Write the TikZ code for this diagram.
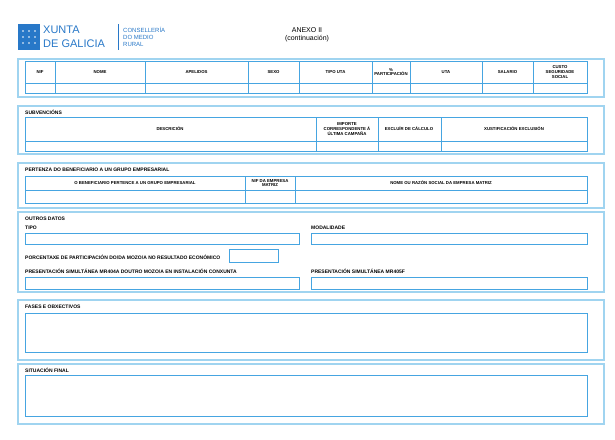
\documentclass[tikz,border=0pt]{standalone}
\usepackage{fontspec}
\setmainfont{Liberation Sans}
\definecolor{gridc}{RGB}{70,165,225}
\definecolor{outc}{RGB}{160,212,240}
\definecolor{logoc}{RGB}{40,120,200}
\begin{document}
\begin{tikzpicture}[x=1pt,y=-1pt,
 outer/.style={draw=outc, line width=1.1pt},
 grid/.style={draw=gridc, line width=0.6pt},
 lab/.style={font=\fontsize{4.3}{4.8}\selectfont\bfseries, align=center, inner sep=0},
 sec/.style={font=\fontsize{5}{6}\selectfont\bfseries, anchor=west, inner sep=0}]
\useasboundingbox[fill=white] (0,0) rectangle (615,439);
% logo
\fill[logoc] (18,24) rectangle (40,50);
\foreach \yy in {31,37,43} \foreach \xx in {23,29,35} \fill[white] (\xx,\yy) circle (0.9);
\node[anchor=west,inner sep=0,text=logoc,font=\fontsize{11}{11}\selectfont] (x1) at (43,30) {XUNTA};
\node[anchor=west,inner sep=0,text=logoc,font=\fontsize{11}{11}\selectfont] (x2) at (43,44) {DE GALICIA};
\draw[logoc,line width=0.6pt] (118,24) -- (118,50);
\node[anchor=west,inner sep=0,text=logoc,font=\fontsize{6}{7}\selectfont,align=left] (cons) at (123,37) {CONSELLERÍA\\DO MEDIO\\RURAL};
\node[font=\fontsize{7}{8.5}\selectfont,align=center] (title) at (307,35) {ANEXO II\\(continuación)};
% table 1
\draw[outer] (18,59) rectangle (604,97);
\draw[grid] (25,61) rectangle (587,93);
\draw[grid] (25,83) -- (587,83);
\foreach \c in {55,145,248,299,372,410,482,533} \draw[grid] (\c,61) -- (\c,93);
\foreach \a/\b/\t [count=\i] in {25/55/NIF,55/145/NOME,145/248/APELIDOS,248/299/SEXO,299/372/TIPO UTA,372/410/\%\\PARTICIPACIÓN,410/482/UTA,482/533/SALARIO,533/587/CUSTO\\SEGURIDADE\\SOCIAL}
  \node[lab] (h\i) at ({(\a+\b)/2},72) {\t};
% table 2
\draw[outer] (18,106) rectangle (604,154);
\node[sec] (s2) at (25,112) {SUBVENCIÓNS};
\draw[grid] (25,117) rectangle (587,151);
\draw[grid] (25,141) -- (587,141);
\foreach \c in {316,378,441} \draw[grid] (\c,117) -- (\c,151);
\node[lab] (d1) at (170,129) {DESCRICIÓN};
\node[lab] (d2) at (347,129) {IMPORTE\\CORRESPONDENTE Á\\ÚLTIMA CAMPAÑA};
\node[lab] (d3) at (409,129) {EXCLUÍR DE CÁLCULO};
\node[lab] (d4) at (514,129) {XUSTIFICACIÓN EXCLUSIÓN};
% table 3
\draw[outer] (18,163) rectangle (604,208);
\node[sec] (s3) at (25,170) {PERTENZA DO BENEFICIARIO A UN GRUPO EMPRESARIAL};
\draw[grid] (25,176) rectangle (587,203);
\draw[grid] (25,190) -- (587,190);
\foreach \c in {245,295} \draw[grid] (\c,176) -- (\c,203);
\node[lab] (p1) at (135,183) {O BENEFICIARIO PERTENCE A UN GRUPO EMPRESARIAL};
\node[lab] (p2) at (270,183) {NIF DA EMPRESA\\MATRIZ};
\node[lab] (p3) at (441,183) {NOME OU RAZÓN SOCIAL DA EMPRESA MATRIZ};
% outros datos
\draw[outer] (18,212) rectangle (604,292);
\node[sec] (s4) at (25,219) {OUTROS DATOS};
\node[sec] (t1) at (25,228) {TIPO};
\node[sec] (t2) at (311,228) {MODALIDADE};
\draw[grid] (25,233) rectangle (299,244);
\draw[grid] (311,233) rectangle (587,244);
\node[sec] (t3) at (25,257) {PORCENTAXE DE PARTICIPACIÓN DO/DA MOZO/A NO RESULTADO ECONÓMICO};
\draw[grid] (229,249) rectangle (278,262);
\node[sec] (t4) at (25,271) {PRESENTACIÓN SIMULTÁNEA MR404A DOUTRO MOZO/A EN INSTALACIÓN CONXUNTA};
\node[sec] (t5) at (311,271) {PRESENTACIÓN SIMULTÁNEA MR405F};
\draw[grid] (25,277) rectangle (299,289);
\draw[grid] (311,277) rectangle (587,289);
% fases
\draw[outer] (18,300) rectangle (604,360);
\node[sec] (s5) at (25,307) {FASES E OBXECTIVOS};
\draw[grid] (25,313) rectangle (587,352);
% situacion
\draw[outer] (18,364) rectangle (604,424);
\node[sec] (s6) at (25,370) {SITUACIÓN FINAL};
\draw[grid] (25,375) rectangle (587,416);
\end{tikzpicture}
\end{document}
